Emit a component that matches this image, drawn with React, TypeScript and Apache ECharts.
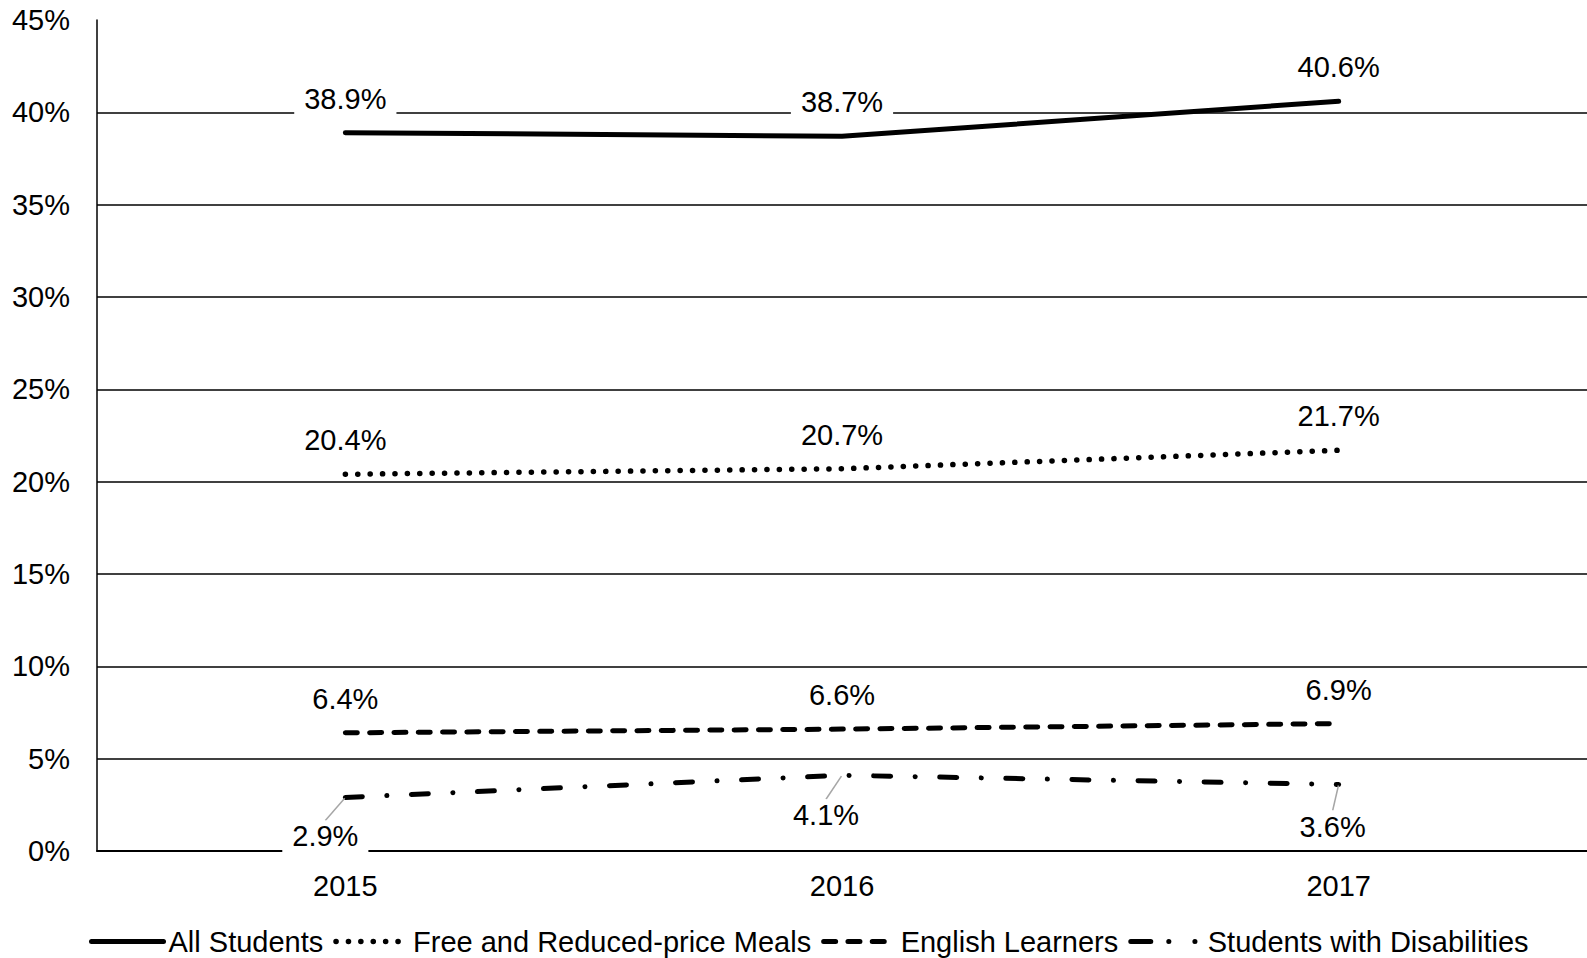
import React, { useEffect, useRef } from "react";
import * as echarts from "echarts";

const years = ["2015", "2016", "2017"];
const allStudents = [38.9, 38.7, 40.6];
const frpm = [20.4, 20.7, 21.7];
const englishLearners = [6.4, 6.6, 6.9];
const disabilities = [2.9, 4.1, 3.6];
const seriesNames = [
  "All Students",
  "Free and Reduced-price Meals",
  "English Learners",
  "Students with Disabilities",
];
const swdLabelShift = [
  [-20, 0],
  [-16, 1],
  [-6, 3],
];

const FONT = "'Liberation Sans', Arial, sans-serif";
const FS = 29;

export default function App() {
  const ref = useRef<HTMLDivElement>(null);
  useEffect(() => {
    document.body.style.margin = "0";
    const chart = echarts.init(ref.current!, null, { renderer: "svg" });
    const topLabel = {
      show: true,
      position: "top",
      distance: 17,
      fontSize: FS,
      fontFamily: FONT,
      color: "#000",
      backgroundColor: "#fff",
      padding: [1, 10],
      lineHeight: 30,
      formatter: (p: any) => Number(p.value).toFixed(1) + "%",
    };
    const hiddenSymbol = {
      symbol: "circle",
      symbolSize: 2,
      itemStyle: { color: "rgba(0,0,0,0)", borderWidth: 0 },
    };
    const dashes: any[] = [
      "solid",
      [0.1, 12.3],
      [12, 12.3],
      [17, 24.5, 0.1, 24.5],
    ];
    const legendDashes: any[] = [
      "solid",
      [0.1, 12.3],
      [12, 12.3],
      [20, 18, 0.1, 26, 0.1, 26],
    ];
    const widths = [5, 5.5, 5, 5];
    const datas = [allStudents, frpm, englishLearners, disabilities];
    const series = datas.map((d, i) => {
      const s: any = {
        name: seriesNames[i],
        type: "line",
        data: d,
        ...hiddenSymbol,
        lineStyle: {
          color: "#000",
          width: widths[i],
          type: dashes[i],
          cap: "round",
          join: "round",
        },
        label: topLabel,
        emphasis: { disabled: true },
        z: 3,
      };
      if (i === 3) {
        s.label = { ...topLabel, position: "bottom", distance: 22 };
        s.labelLayout = (p: any) => ({
          dx: swdLabelShift[p.dataIndex][0],
          dy: swdLabelShift[p.dataIndex][1],
        });
        s.labelLine = {
          show: true,
          lineStyle: { color: "#a6a6a6", width: 1.5 },
        };
      }
      return s;
    });
    chart.setOption({
      animation: false,
      textStyle: { fontFamily: FONT },
      grid: { left: 97, right: 0, top: 20, bottom: 107, containLabel: false },
      legend: {
        left: 89,
        top: 927,
        padding: 0,
        itemGap: 10,
        itemWidth: 72,
        itemHeight: 14,
        textStyle: { fontSize: FS, fontFamily: FONT, color: "#000" },
        data: seriesNames.map((n, i) => ({
          name: n,
          lineStyle: {
            color: "#000",
            width: widths[i],
            type: legendDashes[i],
            cap: "round",
          },
        })),
      },
      xAxis: {
        type: "category",
        data: years,
        boundaryGap: true,
        axisLine: { show: true, lineStyle: { color: "#000", width: 2 } },
        axisTick: { show: false },
        axisLabel: { fontSize: FS, fontFamily: FONT, color: "#000", margin: 20 },
      },
      yAxis: {
        type: "value",
        min: 0,
        max: 45,
        interval: 5,
        axisLine: { show: true, lineStyle: { color: "#000", width: 1.5 } },
        axisTick: { show: false },
        axisLabel: {
          fontSize: FS,
          fontFamily: FONT,
          color: "#000",
          margin: 27,
          formatter: "{value}%",
        },
        splitLine: {
          show: true,
          showMaxLine: false,
          lineStyle: { color: "#000", width: 1.5 },
        },
      },
      series,
    });
    return () => chart.dispose();
  }, []);
  return (
    <div
      ref={ref}
      style={{ position: "absolute", left: 0, top: 0, width: 1587, height: 958 }}
    />
  );
}
